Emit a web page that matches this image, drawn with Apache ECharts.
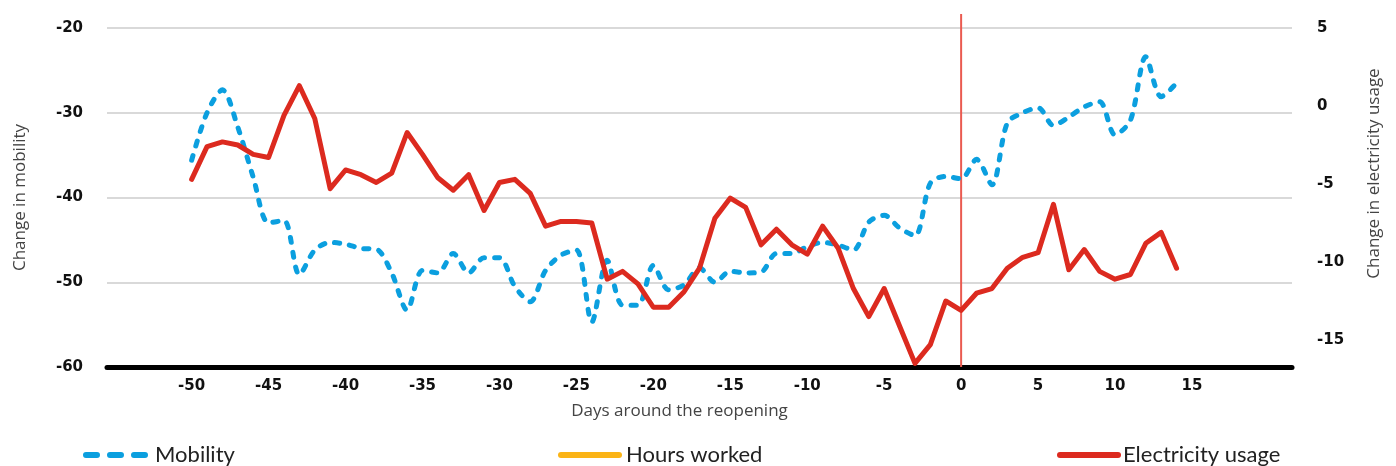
<!doctype html>
<html lang="en">
<head>
    <meta charset="UTF-8">
    <title>Mobility and electricity usage around the reopening</title>
    <style>
        html, body { margin: 0; padding: 0; background: #fff; }
        #main { width: 1396px; height: 466px; }
    </style>
</head>
<body>
<div id="main"></div>
<script type="text/javascript" src="https://cdn.jsdelivr.net/npm/echarts@6/dist/echarts.min.js"></script>
<script type="text/javascript">
    // days around the reopening
    const days = [-50, -49, -48, -47, -46, -45, -44, -43, -42, -41,
        -40, -39, -38, -37, -36, -35, -34, -33, -32, -31,
        -30, -29, -28, -27, -26, -25, -24, -23, -22, -21,
        -20, -19, -18, -17, -16, -15, -14, -13, -12, -11,
        -10, -9, -8, -7, -6, -5, -4, -3, -2, -1,
        0, 1, 2, 3, 4, 5, 6, 7, 8, 9,
        10, 11, 12, 13, 14];
    // change in mobility (left axis)
    const mobility = [-35.6, -30.0, -27.3, -31.7, -37.6, -43.0, -42.7, -49.1, -46.2, -45.3,
        -45.5, -46.0, -46.1, -48.9, -53.3, -48.6, -48.9, -46.6, -48.9, -47.1,
        -47.1, -50.5, -52.3, -48.6, -46.8, -46.2, -54.7, -47.4, -52.7, -52.7,
        -48.0, -50.9, -50.3, -48.3, -50.0, -48.7, -48.9, -48.8, -46.6, -46.6,
        -45.8, -45.3, -45.6, -46.2, -42.9, -42.1, -43.6, -44.5, -38.3, -37.5,
        -37.8, -35.5, -38.5, -31.2, -30.0, -29.4, -31.5, -30.5, -29.3, -28.7,
        -32.6, -30.9, -23.4, -28.1, -26.5];
    // change in electricity usage (right axis)
    const electricity = [-4.7, -2.6, -2.3, -2.5, -3.1, -3.3, -0.6, 1.3, -0.8, -5.3,
        -4.1, -4.4, -4.9, -4.3, -1.7, -3.1, -4.6, -5.4, -4.4, -6.7,
        -4.9, -4.7, -5.6, -7.7, -7.4, -7.4, -7.5, -11.1, -10.6, -11.4,
        -12.9, -12.9, -11.9, -10.4, -7.2, -5.9, -6.5, -8.9, -7.9, -8.9,
        -9.5, -7.7, -9.1, -11.7, -13.5, -11.7, -14.1, -16.5, -15.3, -12.5,
        -13.1, -12.0, -11.7, -10.4, -9.7, -9.4, -6.3, -10.5, -9.2, -10.6,
        -11.1, -10.8, -8.8, -8.1, -10.4];
    // hours worked: only shows up in the legend
    const hoursWorked = [];

    const xTicks = [-50, -45, -40, -35, -30, -25, -20, -15, -10, -5, 0, 5, 10, 15];
    const rightTicks = [-15, -10, -5, 0, 5];
    const reopeningDay = 0;

    let myChart = echarts.init(document.getElementById('main'));

    const labelFont = {
        fontFamily: 'DejaVu Sans',
        fontWeight: 'bold',
        fontSize: 15,
        color: '#111'
    };
    const nameFont = {
        fontFamily: 'Open Sans',
        fontSize: 17,
        color: '#444'
    };
    const legendText = {
        fontFamily: 'Lato',
        fontSize: 22,
        color: '#222'
    };

    let option = {
        backgroundColor: '#fff',
        animation: false,
        grid: {left: 107, right: 104, top: 28, bottom: 99},
        legend: [
            {
                data: ['Mobility'], left: 78, top: 439, itemWidth: 59, itemHeight: 14, itemGap: 8, padding: [5, 5, 5, 5],
                itemStyle: {opacity: 0},
                lineStyle: {width: 6, type: [11, 13], cap: 'round'},
                textStyle: Object.assign({}, legendText, {padding: [0, 0, 0, 5]})
            },
            {
                data: ['Hours worked'], left: 553, top: 439, itemWidth: 58, itemHeight: 14, itemGap: 10,
                itemStyle: {opacity: 0},
                lineStyle: {width: 6, cap: 'round'},
                textStyle: Object.assign({}, legendText, {padding: [0, 0, 0, 2]})
            },
            {
                data: ['Electricity usage'], left: 1052, top: 439, itemWidth: 58, itemHeight: 14, itemGap: 8,
                itemStyle: {opacity: 0},
                lineStyle: {width: 6, cap: 'round'},
                textStyle: legendText
            }
        ],
        xAxis: {
            type: 'value',
            min: -55.5,
            max: 21.5,
            name: 'Days around the reopening',
            nameLocation: 'middle',
            nameGap: 36,
            nameTextStyle: Object.assign({}, nameFont, {padding: [0, 40, 0, 0]}),
            axisLine: {onZero: false, lineStyle: {color: '#000', width: 5}},
            axisTick: {show: false},
            splitLine: {show: false},
            axisLabel: Object.assign({}, labelFont, {customValues: xTicks, margin: 12})
        },
        yAxis: [
            {
                type: 'value',
                min: -60,
                max: -20,
                interval: 10,
                name: 'Change in mobility',
                nameLocation: 'middle',
                nameGap: 78,
                nameTextStyle: nameFont,
                axisLine: {show: false},
                axisTick: {show: false},
                axisLabel: Object.assign({}, labelFont, {margin: 24}),
                splitLine: {lineStyle: {color: '#d9d9d9', width: 2}}
            },
            {
                type: 'value',
                min: -16.73,
                max: 5,
                name: 'Change in electricity usage',
                nameLocation: 'middle',
                nameGap: 74,
                nameTextStyle: Object.assign({}, nameFont, {padding: [0, 0, 0, 48]}),
                axisLine: {show: false},
                axisTick: {show: false},
                axisLabel: Object.assign({}, labelFont, {customValues: rightTicks, margin: 25}),
                splitLine: {show: false}
            }
        ],
        series: [
            {
                name: 'Mobility',
                type: 'line',
                yAxisIndex: 0,
                showSymbol: false,
                symbol: 'none',
                smooth: 0.3,
                color: '#0b9fdf',
                lineStyle: {color: '#0b9fdf', width: 5, type: [5, 10], cap: 'round'},
                data: days.map(function (d, i) { return [d, mobility[i]]; }),
                z: 3
            },
            {
                name: 'Hours worked',
                type: 'line',
                yAxisIndex: 0,
                symbol: 'none',
                color: '#fbb416',
                lineStyle: {color: '#fbb416', width: 5},
                data: hoursWorked
            },
            {
                name: 'Electricity usage',
                type: 'line',
                yAxisIndex: 1,
                symbol: 'none',
                color: '#dc2a1f',
                lineStyle: {color: '#dc2a1f', width: 5, cap: 'round', join: 'round'},
                data: days.map(function (d, i) { return [d, electricity[i]]; }),
                z: 4
            }
        ]
    };
    myChart.setOption(option, true);

    // reopening marker: placed through the chart's own axes
    let lineX = myChart.convertToPixel({xAxisIndex: 0}, reopeningDay);
    let lineBottom = myChart.convertToPixel({yAxisIndex: 1}, -16.73);
    let lineTop = myChart.convertToPixel({yAxisIndex: 1}, 5.9);
    myChart.setOption({
        graphic: [{
            type: 'line',
            z: 2,
            silent: true,
            shape: {x1: lineX, y1: lineTop, x2: lineX, y2: lineBottom},
            style: {stroke: '#ea5a50', lineWidth: 2}
        }]
    });
</script>
</body>
</html>
